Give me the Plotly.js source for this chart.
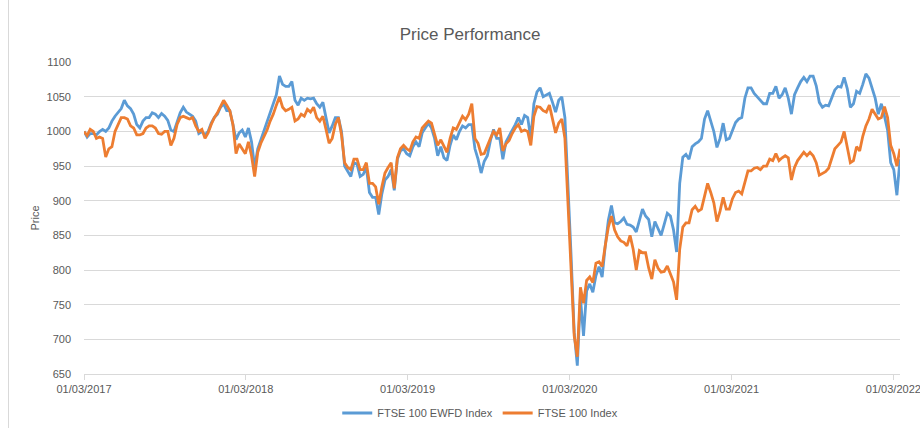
<!DOCTYPE html>
<html>
<head>
<meta charset="utf-8">
<script src="https://cdn.plot.ly/plotly-3.0.1.min.js"></script>
<style>html,body{margin:0;padding:0;background:#fff;}#chart{width:920px;height:428px;}</style>
</head>
<body>
<div id="chart"></div>
<script>
// Weekly samples, starting 01/03/2017
const startDate = '2017-03-01';
const seriesNames = ['FTSE 100 EWFD Index', 'FTSE 100 Index'];
const xTickLabels = ['01/03/2017', '01/03/2018', '01/03/2019', '01/03/2020', '01/03/2021', '01/03/2022'];
const xTickDates = ['2017-03-01', '2018-03-01', '2019-03-01', '2020-03-01', '2021-03-01', '2022-03-01'];

const ewfd = [
  1000, 992, 997, 997, 995, 1000, 1003, 1000, 1005, 1015, 1022, 1028, 1033, 1045, 1037, 1033, 1025, 1010, 1005, 1015,
  1020, 1020, 1027, 1025, 1020, 1026, 1022, 1016, 1002, 1000, 1015, 1027, 1035, 1028, 1025, 1022, 1015, 997, 1000, 995,
  1000, 1012, 1020, 1025, 1035, 1040, 1030, 1030, 1010, 988, 998, 1002, 992, 1005, 985, 948, 975, 988, 998, 1012,
  1025, 1037, 1053, 1080, 1068, 1065, 1065, 1072, 1045, 1038, 1048, 1045, 1048, 1047, 1048, 1040, 1035, 1042, 1018, 998,
  1008, 1020, 1020, 1000, 950,
  943, 935, 955, 953, 935, 938, 948, 912, 905, 905, 880, 910, 930, 935, 945, 915, 960, 972, 975, 968,
  965, 978, 985, 978, 998, 1005, 1012, 1005, 990, 965, 978, 962, 958, 980, 995, 988, 1000, 1008, 1005, 1010, 1010,
  975, 960, 940, 957, 965, 987, 1003, 990, 990, 960, 985, 993, 1003, 1010, 1020, 1010, 1023, 1020, 990, 1040,
  1057, 1063, 1050, 1053, 1055, 1042, 1028, 1045, 1050, 1020, 930, 820, 710, 662, 760, 705, 770, 780, 768, 792,
  805, 790, 835, 872, 893, 868,
  867, 870, 875, 866, 865, 862, 855, 870, 888, 878, 873, 848, 870, 860, 850, 866, 882, 878, 858, 826,
  925, 963, 967, 960, 978, 982, 985, 990, 1018, 1030, 1013, 1000, 977, 990, 1012, 988, 990, 1003, 1013, 1018,
  1020, 1048, 1063, 1063,
  1055, 1050, 1045, 1040, 1040, 1055, 1055, 1065, 1048, 1053, 1063, 1048, 1025, 1053, 1063, 1072, 1078, 1072, 1080, 1080,
  1066, 1042, 1035, 1038, 1037, 1050, 1060, 1065, 1064, 1078, 1062, 1035, 1040, 1058, 1055, 1068, 1083, 1077, 1063, 1048,
  1025, 1040, 1022, 1002, 955, 945, 908, 960
];

const ftse = [
  1000, 994, 1003, 1000, 990, 992, 990, 963, 975, 978, 1000, 1010, 1020, 1020, 1018, 1008, 1005, 995, 995, 997,
  1005, 1008, 1008, 1005, 997, 996, 1000, 1000, 980, 990, 1010, 1020, 1022, 1020, 1018, 1020, 1008, 1000, 1003, 990,
  998, 1010, 1020, 1027, 1037, 1045, 1038, 1030, 1010, 968, 982, 975, 968, 985, 965, 935, 970, 983, 992, 1002,
  1015, 1025, 1038, 1050, 1035, 1030, 1032, 1035, 1015, 1018, 1025, 1022, 1032, 1028, 1035, 1020, 1015, 1022, 1003, 983,
  990, 1010, 1020, 995, 955,
  948, 945, 960, 960, 945, 945, 955, 925, 925, 920, 895, 920, 940, 948, 955, 918, 962, 975, 980, 975,
  972, 985, 992, 990, 1005, 1010, 1015, 1012, 995, 980, 988, 978, 970, 990, 1005, 1003, 1012, 1022, 1017, 1025, 1040,
  990, 983, 967, 968, 980, 990, 1000, 995, 1005, 972, 982, 987, 997, 1005, 1010, 1000, 1002, 1000, 980, 1022,
  1036, 1035, 1030, 1028, 1038, 1018, 998, 1012, 1018, 990, 905, 800, 705, 675, 775, 752, 785, 790, 782, 810,
  812, 805, 835, 862, 878, 858,
  848, 842, 840, 835, 850, 830, 800, 828, 825, 825, 803, 787, 815, 803, 797, 798, 806, 795, 783, 757,
  830, 862, 868, 868, 887, 892, 885, 888, 907, 925, 912, 897, 870, 885, 905, 888, 888, 903, 912, 914,
  910, 925, 943, 943,
  947, 948, 945, 950, 950, 960, 958, 968, 958, 962, 965, 962, 930, 948, 958, 964, 970, 965, 970, 965,
  955, 937, 940, 942, 947, 962, 975, 980, 985, 1000, 980, 955, 958, 978, 972, 993, 1008, 1018, 1032, 1025,
  1018, 1020, 1036, 1020, 980, 968, 950, 975
];

const weekMs = 7 * 24 * 3600 * 1000;
const fam = 'Liberation Sans, Arial, sans-serif';
const grey = '#595959';

const traces = [
  { type: 'scatter', mode: 'lines', name: seriesNames[0], x0: startDate, dx: weekMs, y: ewfd,
    line: { color: '#5B9BD5', width: 2.8 } },
  { type: 'scatter', mode: 'lines', name: seriesNames[1], x0: startDate, dx: weekMs, y: ftse,
    line: { color: '#ED7D31', width: 2.8 } }
];

const layout = {
  width: 920, height: 428,
  margin: { l: 84, r: 20, t: 62, b: 54, autoexpand: false },
  paper_bgcolor: '#ffffff', plot_bgcolor: '#ffffff',
  font: { family: fam, color: grey },
  title: { text: 'Price Performance', font: { family: fam, size: 17, color: grey },
           xref: 'container', x: 0.511, xanchor: 'center', yref: 'container', y: 0.92, yanchor: 'middle' },
  xaxis: {
    type: 'date', range: ['2017-03-01', '2022-03-16'],
    tickmode: 'array', tickvals: xTickDates, ticktext: xTickLabels,
    showgrid: false, zeroline: false, automargin: false,
    showline: true, linecolor: '#d9d9d9', linewidth: 1,
    ticks: 'outside', ticklen: 5, tickcolor: '#d9d9d9',
    ticklabeloverflow: 'allow',
    tickfont: { family: fam, size: 11, color: grey }
  },
  yaxis: {
    range: [650, 1100.25], dtick: 50, tick0: 650, automargin: false,
    gridcolor: '#d9d9d9', gridwidth: 1, zeroline: false, showline: false,
    ticklabelstandoff: 12,
    tickfont: { family: fam, size: 11, color: grey },
    title: { text: 'Price', font: { family: fam, size: 11, color: grey }, standoff: 4 }
  },
  showlegend: true,
  legend: { orientation: 'h', xref: 'container', x: 0.522, xanchor: 'center',
            yref: 'container', y: 0.035, yanchor: 'middle',
            font: { family: fam, size: 11, color: grey } },
  shapes: [
    { type: 'line', xref: 'paper', yref: 'paper', x0: -0.0925, x1: -0.0925, y0: -0.18, y1: 1.21,
      line: { color: '#d9d9d9', width: 1 } }
  ]
};

Plotly.newPlot('chart', traces, layout, { staticPlot: true, displayModeBar: false });
</script>
</body>
</html>
